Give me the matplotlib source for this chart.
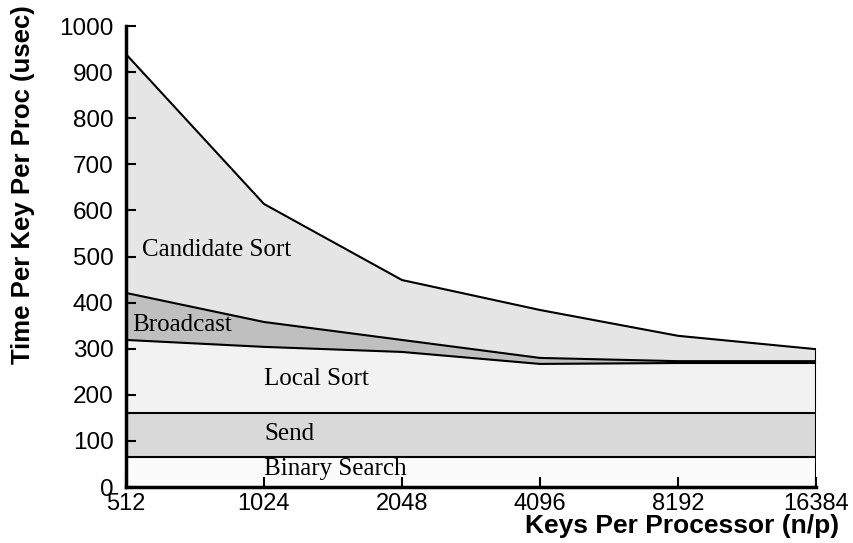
import numpy as np
import matplotlib.pyplot as plt

# keys per processor
keys = [512, 1024, 2048, 4096, 8192, 16384]

# time per key per proc (usec), per phase
binary_search = [65, 65, 65, 65, 65, 65]
send = [95, 95, 95, 95, 95, 95]
local_sort = [159, 144, 133, 107, 109, 109]
broadcast = [102, 54, 26, 13, 4, 4]
candidate_sort = [518, 256, 130, 104, 55, 26]

series = [binary_search, send, local_sort, broadcast, candidate_sort]
colors = ['#fbfbfb', '#d9d9d9', '#f2f2f2', '#bfbfbf', '#e5e5e5']

fig = plt.figure(figsize=(8.54, 5.43), dpi=100)
ax = fig.add_axes([0.1475, 0.1031, 0.808, 0.849])

x = np.array(keys, dtype=float)
base = np.zeros(len(keys))
for vals, c in zip(series, colors):
    top = base + np.array(vals)
    ax.fill_between(x, base, top, color=c, lw=0)
    ax.plot(x, top, color='black', lw=1.5)
    base = top
ax.plot([x[-1], x[-1]], [0, base[-1]], color='black', lw=1.5)

ax.set_xscale('log', base=2)
ax.set_xlim(512, 16384)
ax.set_ylim(0, 1000)
ax.set_xticks(keys)
ax.set_xticklabels([str(k) for k in keys])
ax.minorticks_off()
ax.set_yticks(range(0, 1001, 100))

for s in ['top', 'right']:
    ax.spines[s].set_visible(False)
ax.spines['left'].set_linewidth(2.5)
ax.spines['bottom'].set_linewidth(2.5)
ax.tick_params(direction='in', length=7, width=1.5, labelsize=17.5,
               labelfontfamily='Liberation Sans')
ax.tick_params(axis='x', pad=4, labelsize=17)
ax.tick_params(axis='y', pad=9)

lab = dict(family='Liberation Serif', fontsize=18)
ax.text(555, 514, 'Candidate Sort', va='center', **lab)
ax.text(528, 351, 'Broadcast', va='center', **lab)
ax.text(1024, 235, 'Local Sort', va='center', **lab)
ax.text(1024, 116, 'Send', va='center', **lab)
ax.text(1024, 38, 'Binary Search', va='center', **lab)

fig.text(23 / 854, 1 - 185 / 543, 'Time Per Key Per Proc (usec)', rotation=90,
         ha='center', va='center', fontsize=18.5, fontweight='bold',
         family='Liberation Sans')
fig.text(682 / 854, 1 - 526 / 543, 'Keys Per Processor (n/p)', ha='center',
         va='center', fontsize=19, fontweight='bold',
         family='Liberation Sans')

fig.savefig('out.png', dpi=100)
